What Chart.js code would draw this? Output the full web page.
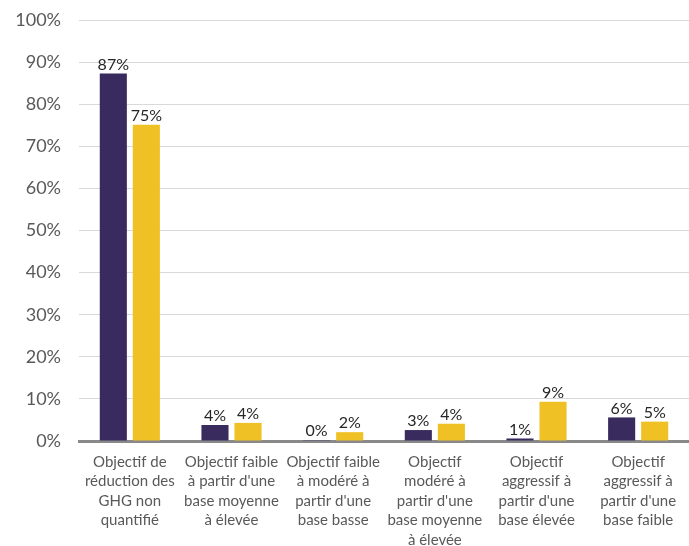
<!DOCTYPE html>
<html>
<head>
<meta charset="utf-8">
<script src="https://cdn.jsdelivr.net/npm/chart.js@4"></script>
<style>
  html, body { margin: 0; padding: 0; background: #fff; }
  #chart { display: block; }
</style>
</head>
<body>
<canvas id="chart" width="689" height="546"></canvas>
<script>
// categories (multi-line labels)
const categories = [
    ["Objectif de", "réduction des", "GHG non", "quantifié"],
    ["Objectif faible", "à partir d'une", "base moyenne", "à élevée"],
    ["Objectif faible", "à modéré à", "partir d'une", "base basse"],
    ["Objectif", "modéré à", "partir d'une", "base moyenne", "à élevée"],
    ["Objectif", "aggressif à", "partir d'une", "base élevée"],
    ["Objectif", "aggressif à", "partir d'une", "base faible"]
];

// series values (percent)
const seriesA = [87.3, 3.8, 0.2, 2.6, 0.6, 5.6];
const seriesB = [75.1, 4.3, 2.1, 4.1, 9.3, 4.6];

const yTicks = [0, 10, 20, 30, 40, 50, 60, 70, 80, 90, 100];

// draw the value above each bar
const barLabels = {
    id: 'barLabels',
    afterDatasetsDraw(chart) {
        const ctx = chart.ctx;
        ctx.save();
        ctx.font = '16px Lato';
        ctx.fillStyle = '#262626';
        ctx.textAlign = 'center';
        ctx.textBaseline = 'bottom';
        chart.data.datasets.forEach((ds, i) => {
            chart.getDatasetMeta(i).data.forEach((bar, j) => {
                ctx.fillText(Math.round(ds.data[j]) + '%', bar.x, bar.y - 1);
            });
        });
        ctx.restore();
    }
};

const ctx = document.getElementById('chart').getContext('2d');
new Chart(ctx, {
    type: 'bar',
    data: {
        labels: categories,
        datasets: [{
            data: seriesA,
            backgroundColor: '#3a2b5f',
            barPercentage: 0.82,
            categoryPercentage: 0.65
        }, {
            data: seriesB,
            backgroundColor: '#f0c125',
            barPercentage: 0.82,
            categoryPercentage: 0.65
        }]
    },
    options: {
        responsive: false,
        animation: false,
        layout: { padding: { top: 20, right: 0, left: 0, bottom: 0 } },
        plugins: {
            legend: { display: false },
            tooltip: { enabled: false }
        },
        scales: {
            x: {
                grid: { display: false },
                border: { color: '#898989', width: 3 },
                ticks: {
                    color: '#595959',
                    font: { family: 'Lato', size: 15, lineHeight: 1.3 },
                    padding: 3,
                    maxRotation: 0,
                    autoSkip: false
                },
                afterFit(scale) {
                    scale.height = 105;
                    scale.paddingLeft = 0;
                    scale.paddingRight = 0;
                }
            },
            y: {
                min: 0,
                max: 100,
                afterBuildTicks(scale) {
                    scale.ticks = yTicks.map(v => ({ value: v }));
                },
                grid: {
                    color: '#d9d9d9',
                    lineWidth: 1,
                    drawTicks: false
                },
                border: { display: false },
                ticks: {
                    color: '#595959',
                    font: { family: 'Lato', size: 18 },
                    padding: 18,
                    callback: v => v + '%'
                },
                afterFit(scale) {
                    scale.width = 79;
                    scale.paddingTop = 0;
                    scale.paddingBottom = 0;
                }
            }
        }
    },
    plugins: [barLabels]
});
</script>
</body>
</html>
